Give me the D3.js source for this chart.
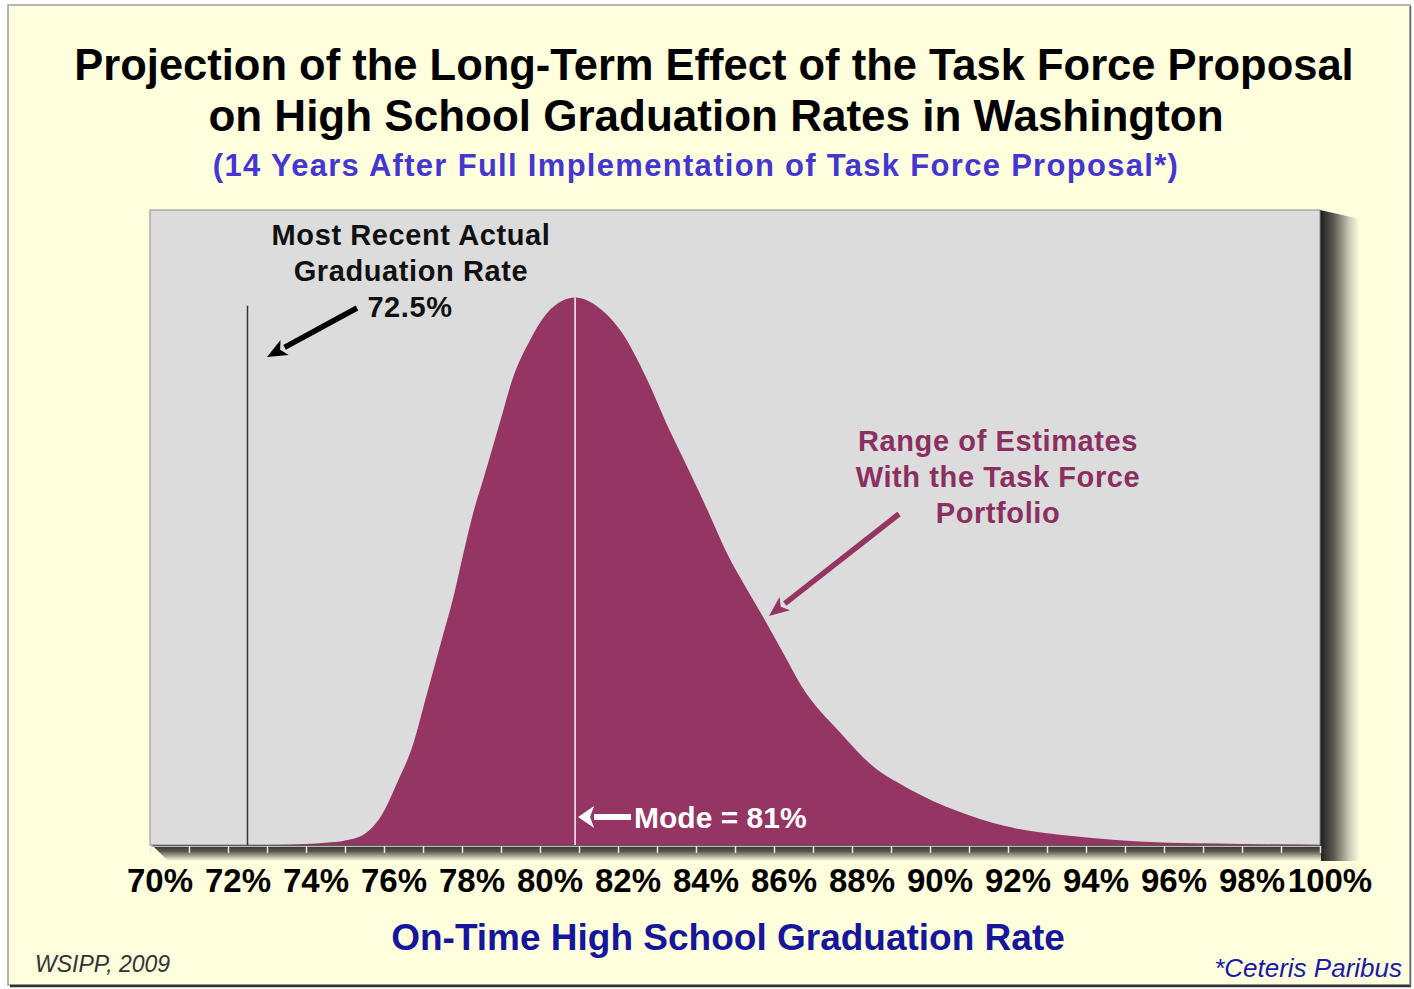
<!DOCTYPE html>
<html>
<head>
<meta charset="utf-8">
<script src="https://cdn.jsdelivr.net/npm/d3@7"></script>
<style>
  body { margin: 0; background: #fff; }
  text { font-family: "Liberation Sans", Arial, sans-serif; }
</style>
</head>
<body>
<div id="chart"></div>
<script>
// 分布のデータ (卒業率 % と相対密度, 最頻値 = 100)
var rates = [70, 73, 74, 74.5, 75, 75.5, 76, 76.3, 76.75, 77.1, 77.45, 77.8, 78.05, 78.3, 78.55, 79, 79.3, 79.75, 80.15, 80.6, 80.9,
  81.5, 82.1, 82.7, 83.3, 83.8, 84.3, 84.8, 85.25, 85.75, 86.25, 86.7, 87.7, 88.5, 89.5, 90.7, 91.9, 93.7, 95.5, 98, 100];
var density = [0, 0, 0.2, 0.4, 0.8, 2, 6.2, 10.8, 18.5, 27.6, 36.7, 45.9, 53.7, 61, 66.9, 77.9, 85.2, 92.3, 96.9, 99.5, 100,
  98.2, 93.6, 85.7, 76.1, 68.7, 61.1, 53.2, 47.4, 41.3, 34.9, 29.1, 20.5, 14.6, 10.1, 6.2, 3.5, 1.6, 0.6, 0.2, 0];
var tickValues = d3.range(70, 101, 1);
var tickLabels = tickValues.map(v => v % 2 == 0 ? v + "%" : "");
var actualRate = 72.5;
var modeRate = 80.9;

var W = 1414, H = 989;
var plot = { left: 150, right: 1320, top: 210, bottom: 845 };
var bg = "#ffffdd";

var svg = d3.select("#chart").append("svg")
  .attr("width", W)
  .attr("height", H);

var defs = svg.append("defs");
var gR = defs.append("linearGradient").attr("id", "shR").attr("x1", 0).attr("x2", 1).attr("y1", 0).attr("y2", 0);
gR.append("stop").attr("offset", 0).attr("stop-color", "#1c1c1c");
gR.append("stop").attr("offset", 0.35).attr("stop-color", "#5c5c54");
gR.append("stop").attr("offset", 0.75).attr("stop-color", "#cfcfbc");
gR.append("stop").attr("offset", 1).attr("stop-color", bg);
var gB = defs.append("linearGradient").attr("id", "shB").attr("x1", 0).attr("x2", 0).attr("y1", 0).attr("y2", 1);
gB.append("stop").attr("offset", 0).attr("stop-color", "#2a2a2a");
gB.append("stop").attr("offset", 0.4).attr("stop-color", "#5a5a52");
gB.append("stop").attr("offset", 1).attr("stop-color", bg);

// 外枠
svg.append("rect")
  .attr("x", 8).attr("y", 5).attr("width", 1402).attr("height", 980)
  .attr("fill", bg).attr("stroke", "#a0a0a0").attr("stroke-width", 1.5);
svg.append("line").attr("x1", 10).attr("x2", 1411).attr("y1", 986).attr("y2", 986)
  .attr("stroke", "#333").attr("stroke-width", 2.5);
svg.append("line").attr("x1", 1410.5).attr("x2", 1410.5).attr("y1", 6).attr("y2", 986)
  .attr("stroke", "#666").attr("stroke-width", 1.5);

// タイトル
svg.append("text").attr("x", 714).attr("y", 80).attr("text-anchor", "middle")
  .attr("font-size", 43.5).attr("font-weight", "bold").attr("fill", "#000")
  .text("Projection of the Long-Term Effect of the Task Force Proposal");
svg.append("text").attr("x", 716).attr("y", 131).attr("text-anchor", "middle")
  .attr("font-size", 44).attr("font-weight", "bold").attr("fill", "#000")
  .text("on High School Graduation Rates in Washington");
svg.append("text").attr("x", 696).attr("y", 176).attr("text-anchor", "middle")
  .attr("font-size", 31).attr("font-weight", "bold").attr("fill", "#4536d0")
  .attr("letter-spacing", 1.3)
  .text("(14 Years After Full Implementation of Task Force Proposal*)");

var x = d3.scaleLinear().domain([70, 100]).range([plot.left, plot.right]);
var y = d3.scaleLinear().domain([0, 116]).range([plot.bottom, plot.top]);

// 影
svg.append("polygon")
  .attr("points", [[plot.right, plot.top], [plot.right + 40, plot.top + 9], [plot.right + 40, plot.bottom + 16], [plot.right, plot.bottom + 16]].join(" "))
  .attr("fill", "url(#shR)");
svg.append("polygon")
  .attr("points", [[plot.left + 2, plot.bottom], [plot.right + 1, plot.bottom], [plot.right + 1, plot.bottom + 16], [plot.left + 18, plot.bottom + 16]].join(" "))
  .attr("fill", "url(#shB)");

// プロット領域
svg.append("rect")
  .attr("x", plot.left).attr("y", plot.top)
  .attr("width", plot.right - plot.left).attr("height", plot.bottom - plot.top)
  .attr("fill", "#dcdcdc").attr("stroke", "#8a8a8a").attr("stroke-width", 1);

var data = rates.map((r, i) => ({ rate: r, value: density[i] }));
var area = d3.area()
  .x(d => x(d.rate))
  .y0(y(0))
  .y1(d => y(d.value))
  .curve(d3.curveMonotoneX);
svg.append("path").datum(data)
  .attr("d", area)
  .attr("fill", "#943563");

// 実際の卒業率の線
svg.append("line")
  .attr("x1", x(actualRate)).attr("x2", x(actualRate))
  .attr("y1", y(98.5)).attr("y2", plot.bottom)
  .attr("stroke", "#333").attr("stroke-width", 1.5);
// 最頻値の線
svg.append("line")
  .attr("x1", x(modeRate)).attr("x2", x(modeRate))
  .attr("y1", y(100)).attr("y2", plot.bottom)
  .attr("stroke", "#f4f4f4").attr("stroke-width", 1.5);

// X軸
var axis = svg.append("g")
  .attr("transform", "translate(0," + (plot.bottom + 1) + ")")
  .call(d3.axisBottom(x).tickValues(tickValues).tickSize(7).tickFormat((d, i) => tickLabels[i]));
axis.select(".domain").attr("stroke", "#bdbdb0").attr("stroke-width", 1).attr("d", "M" + plot.left + ",0.5H" + plot.right);
axis.selectAll(".tick line").attr("stroke", "#e6e6e0").attr("stroke-width", 1.5);
axis.selectAll(".tick text")
  .attr("y", 46).attr("dy", 0).attr("dx", 9.5)
  .attr("font-size", 33).attr("font-weight", "bold").attr("fill", "#000")
  .attr("font-family", "Liberation Sans, Arial, sans-serif");

svg.append("text").attr("x", 728).attr("y", 950).attr("text-anchor", "middle")
  .attr("font-size", 37).attr("font-weight", "bold").attr("fill", "#16169a")
  .text("On-Time High School Graduation Rate");

// 注記
function arrow(x1, y1, x2, y2, color, w, hl, hw) {
  var a = Math.atan2(y2 - y1, x2 - x1);
  var bx = x2 - hl * Math.cos(a), by = y2 - hl * Math.sin(a);
  svg.append("line").attr("x1", x1).attr("y1", y1).attr("x2", bx).attr("y2", by)
    .attr("stroke", color).attr("stroke-width", w);
  var px = -Math.sin(a) * hw / 2, py = Math.cos(a) * hw / 2;
  svg.append("polygon")
    .attr("points", [[x2, y2], [bx + px, by + py], [bx + hl * 0.25 * Math.cos(a), by + hl * 0.25 * Math.sin(a)], [bx - px, by - py]].join(" "))
    .attr("fill", color);
}

var note1 = svg.append("text").attr("text-anchor", "middle").attr("font-size", 29)
  .attr("font-weight", "bold").attr("fill", "#111").attr("letter-spacing", 0.6);
["Most Recent Actual", "Graduation Rate"].forEach((t, i) => {
  note1.append("tspan").attr("x", 411).attr("y", 245 + i * 36).text(t);
});
svg.append("text").attr("x", 410).attr("y", 317).attr("text-anchor", "middle")
  .attr("font-size", 29).attr("font-weight", "bold").attr("fill", "#111").attr("letter-spacing", 0.6)
  .text(d3.format(".1f")(actualRate) + "%");
arrow(357, 308, 267, 357, "#000", 5.5, 20, 17);

var note2 = svg.append("text").attr("text-anchor", "middle").attr("font-size", 29)
  .attr("font-weight", "bold").attr("fill", "#8a2f5f").attr("letter-spacing", 0.6);
["Range of Estimates", "With the Task Force", "Portfolio"].forEach((t, i) => {
  note2.append("tspan").attr("x", 998).attr("y", 451 + i * 36).text(t);
});
arrow(899, 514, 769, 616, "#943563", 5.5, 20, 17);

arrow(631, 817, x(modeRate) + 3, 817, "#fff", 6, 16, 22);
svg.append("text").attr("x", 634).attr("y", 828)
  .attr("font-size", 30).attr("font-weight", "bold").attr("fill", "#fff")
  .text("Mode = 81%");

// 出典
svg.append("text").attr("x", 35).attr("y", 972)
  .attr("font-size", 23).attr("font-style", "italic").attr("fill", "#333")
  .attr("font-family", "Noto Sans, sans-serif")
  .text("WSIPP, 2009");
svg.append("text").attr("x", 1402).attr("y", 977).attr("text-anchor", "end")
  .attr("font-size", 26).attr("font-style", "italic").attr("fill", "#1a1aa5")
  .text("*Ceteris Paribus");
</script>
</body>
</html>
